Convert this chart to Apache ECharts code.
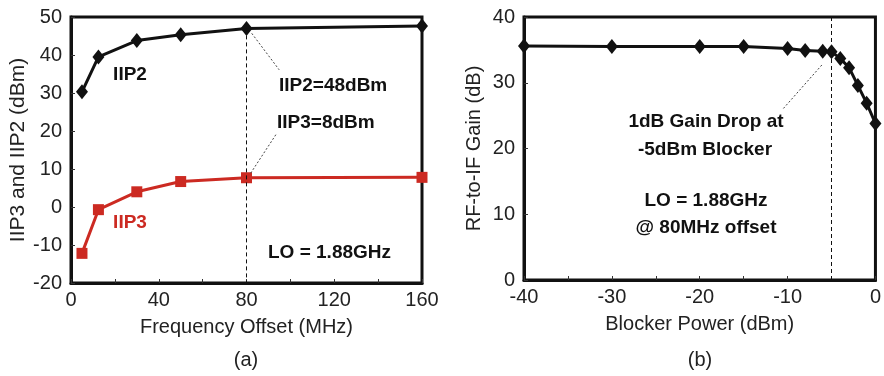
<!DOCTYPE html>
<html>
<head>
<meta charset="utf-8">
<script src="https://cdn.jsdelivr.net/npm/echarts@6/dist/echarts.min.js"></script>
<style>
  html, body { margin: 0; padding: 0; background: #fff; }
  #chart { width: 884px; height: 376px; }
</style>
</head>
<body>
<div id="chart"></div>
<script>
// (a) IIP2 / IIP3 vs offset
var freqOffset = [5, 12.5, 30, 50, 80, 160]
var iip2 = [30.3, 39.5, 43.8, 45.3, 47.0, 47.6]
var iip3 = [-12.2, -0.7, 4.0, 6.7, 7.7, 7.8]
// (b) gain vs blocker power
var blockerPower = [-40, -30, -20, -15, -10, -8, -6, -5, -4, -3, -2, -1, 0]
var gain = [35.6, 35.5, 35.5, 35.5, 35.2, 34.9, 34.8, 34.7, 33.7, 32.3, 29.6, 26.9, 23.8]

var FONT = "'Liberation Sans', Arial, sans-serif"
var RED = '#cc2a22'

function pairs(xs, ys) {
  var out = []
  for (var i = 0; i < xs.length; i++) out.push([xs[i], ys[i]])
  return out
}

var chart = echarts.init(document.getElementById('chart'))

function xAx(idx, min, max, interval, name) {
  return {
    type: 'value', gridIndex: idx, min: min, max: max, interval: interval,
    name: name, nameLocation: 'middle', nameGap: 34,
    nameTextStyle: { fontFamily: FONT, fontSize: 20, color: '#222' },
    axisLine: { show: true, onZero: false, lineStyle: { color: '#111', width: 3 } },
    axisTick: { show: true, inside: true, length: 4, lineStyle: { color: '#333', width: 1 } },
    minorTick: { show: true, splitNumber: 2, length: 4, lineStyle: { color: '#333', width: 1 } },
    axisLabel: { fontFamily: FONT, fontSize: 20, color: '#222', margin: 7 },
    splitLine: { show: false }
  }
}

function yAx(idx, min, max, interval, name, gap, nameSize) {
  return {
    type: 'value', gridIndex: idx, min: min, max: max, interval: interval,
    name: name, nameLocation: 'middle', nameGap: gap,
    nameTextStyle: { fontFamily: FONT, fontSize: nameSize, color: '#222' },
    axisLine: { show: true, onZero: false, lineStyle: { color: '#111', width: 3 } },
    axisTick: { show: true, inside: true, length: 4, lineStyle: { color: '#333', width: 1 } },
    axisLabel: { fontFamily: FONT, fontSize: 20, color: '#222', margin: 9 },
    splitLine: { show: false }
  }
}

function txt(x, y, s, color, align) {
  return {
    type: 'text', x: x, y: y, z: 10,
    style: {
      text: s, fill: color || '#111', font: 'bold 19px ' + FONT,
      align: align || 'center', verticalAlign: 'middle'
    }
  }
}

var dashed = { color: '#111', type: [4, 3], width: 1 }
var dotted = { color: '#444', type: [2, 2], width: 1 }

chart.setOption({
  animation: false,
  backgroundColor: '#fff',
  grid: [
    { left: 71, top: 17, width: 351, height: 266, show: true, borderColor: '#111', borderWidth: 3 },
    { left: 524, top: 17, width: 353, height: 263, show: true, borderColor: '#111', borderWidth: 3 }
  ],
  xAxis: [
    xAx(0, 0, 160, 40, 'Frequency Offset (MHz)'),
    xAx(1, -40, 0, 10, 'Blocker Power (dBm)')
  ],
  yAxis: [
    yAx(0, -20, 50, 10, 'IIP3 and IIP2 (dBm)', 38, 21),
    yAx(1, 0, 40, 10, 'RF-to-IF Gain (dB)', 40, 20)
  ],
  series: [
    {
      name: 'IIP2', type: 'line', xAxisIndex: 0, yAxisIndex: 0, clip: false,
      data: pairs(freqOffset, iip2),
      symbol: 'diamond', symbolSize: [12, 15],
      lineStyle: { color: '#111', width: 3 },
      itemStyle: { color: '#111' },
      markLine: {
        silent: true, symbol: 'none', label: { show: false },
        data: [
          [{ coord: [80, 47] }, { coord: [80, -20], lineStyle: dashed }],
          [{ coord: [82.4, 45.7] }, { coord: [94.9, 36.1], lineStyle: dotted }],
          [{ coord: [81.9, 8.9] }, { coord: [93.8, 19.4], lineStyle: dotted }]
        ]
      }
    },
    {
      name: 'IIP3', type: 'line', xAxisIndex: 0, yAxisIndex: 0, clip: false,
      data: pairs(freqOffset, iip3),
      symbol: 'rect', symbolSize: 11,
      lineStyle: { color: RED, width: 3 },
      itemStyle: { color: RED }
    },
    {
      name: 'Gain', type: 'line', xAxisIndex: 1, yAxisIndex: 1, clip: false,
      data: pairs(blockerPower, gain),
      symbol: 'diamond', symbolSize: [12, 15],
      lineStyle: { color: '#111', width: 3 },
      itemStyle: { color: '#111' },
      markLine: {
        silent: true, symbol: 'none', label: { show: false },
        data: [
          [{ coord: [-5, 40] }, { coord: [-5, 0], lineStyle: dashed }],
          [{ coord: [-6.1, 32.7] }, { coord: [-10.6, 25.9], lineStyle: dotted }]
        ]
      }
    }
  ],
  graphic: [
    txt(130, 75, 'IIP2'),
    txt(130, 223, 'IIP3', RED),
    txt(279, 86, 'IIP2=48dBm', '#111', 'left'),
    txt(277, 123, 'IIP3=8dBm', '#111', 'left'),
    txt(268, 253, 'LO = 1.88GHz', '#111', 'left'),
    txt(706, 122, '1dB Gain Drop at'),
    txt(705, 150, '-5dBm Blocker'),
    txt(706, 201, 'LO = 1.88GHz'),
    txt(706, 228, '@ 80MHz offset'),
    { type: 'text', x: 246, y: 360, style: { text: '(a)', fill: '#222', font: '20px ' + FONT, align: 'center', verticalAlign: 'middle' } },
    { type: 'text', x: 700, y: 360, style: { text: '(b)', fill: '#222', font: '20px ' + FONT, align: 'center', verticalAlign: 'middle' } }
  ]
})
</script>
</body>
</html>
